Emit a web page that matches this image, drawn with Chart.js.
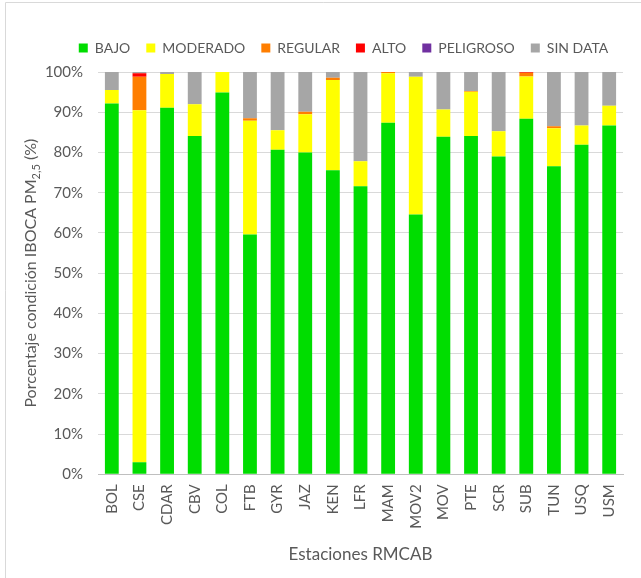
<!DOCTYPE html>
<html>
<head>
<meta charset="utf-8">
<script src="https://cdn.jsdelivr.net/npm/chart.js@4"></script>
<style>
  html, body { margin: 0; padding: 0; background: #fff; }
  #wrap { width: 641px; height: 578px; position: relative; }
</style>
</head>
<body>
<div id="wrap"><canvas id="ibocaChart"></canvas></div>
<script>
// stations and share of hours in each IBOCA PM2.5 condition (%)
const estaciones = ["BOL", "CSE", "CDAR", "CBV", "COL", "FTB", "GYR", "JAZ", "KEN",
  "LFR", "MAM", "MOV2", "MOV", "PTE", "SCR", "SUB", "TUN", "USQ", "USM"];

const bajo      = [92.2, 3.0, 91.1, 84.1, 94.9, 59.6, 80.7, 80.0, 75.6, 71.6, 87.4, 64.6, 83.9, 84.1, 79.0, 88.4, 76.6, 81.9, 86.7];
const moderado  = [3.3, 87.5, 8.4, 7.9, 5.1, 28.3, 4.8, 9.5, 22.4, 6.2, 12.3, 34.2, 6.8, 11.0, 6.3, 10.5, 9.4, 4.8, 4.9];
const regular   = [0, 8.3, 0, 0, 0, 0.6, 0, 0.6, 0.6, 0, 0.3, 0, 0, 0.2, 0, 0.9, 0.5, 0, 0];
const alto      = [0, 0.9, 0, 0, 0, 0, 0, 0, 0, 0, 0, 0, 0, 0, 0, 0.2, 0, 0, 0];
const peligroso = [0, 0, 0, 0, 0, 0, 0, 0, 0, 0, 0, 0, 0, 0, 0, 0, 0, 0, 0];
const sinData   = [4.5, 0.3, 0.5, 8.0, 0, 11.5, 14.5, 9.9, 1.4, 22.2, 0, 1.2, 9.3, 4.7, 14.7, 0, 13.5, 13.3, 8.4];

const yTicks = [0, 10, 20, 30, 40, 50, 60, 70, 80, 90, 100];

const gris = "#595959";
const fuente = "Lato, 'Open Sans', sans-serif";

// frame round the chart plus the y title with its PM2,5 subscript
const extras = {
  id: "extras",
  afterLayout(chart) {
    const l = chart.legend;
    l.left += 32; l.right += 32;
    l.top -= 7; l.bottom -= 7;
  },
  beforeDraw(chart) {
    const c = chart.ctx;
    c.save();
    c.strokeStyle = "#d9d9d9";
    c.lineWidth = 1;
    c.beginPath();
    c.moveTo(5.5, 578); c.lineTo(5.5, 2.5); c.lineTo(641, 2.5);
    c.stroke();
    c.restore();
  },
  afterDraw(chart) {
    const c = chart.ctx;
    const a = chart.chartArea;
    const parts = [
      ["Porcentaje condición IBOCA PM", 16, 0],
      ["2,5", 11, 4],
      [" (%)", 16, 0]
    ];
    c.save();
    c.fillStyle = gris;
    c.textBaseline = "alphabetic";
    let total = 0;
    parts.forEach(p => { c.font = p[1] + "px " + fuente; total += c.measureText(p[0]).width; });
    c.translate(36, (a.top + a.bottom) / 2 + total / 2);
    c.rotate(-Math.PI / 2);
    let x = 0;
    parts.forEach(p => {
      c.font = p[1] + "px " + fuente;
      c.fillText(p[0], x, p[2]);
      x += c.measureText(p[0]).width;
    });
    c.restore();
  }
};

const serie = (label, data, color) => ({
  label, data, backgroundColor: color, borderWidth: 0,
  barPercentage: 1, categoryPercentage: 0.5
});

new Chart(document.getElementById("ibocaChart"), {
  type: "bar",
  data: {
    labels: estaciones,
    datasets: [
      serie("BAJO", bajo, "#00dd00"),
      serie("MODERADO", moderado, "#ffff00"),
      serie("REGULAR", regular, "#ff7e00"),
      serie("ALTO", alto, "#ff0000"),
      serie("PELIGROSO", peligroso, "#7030a0"),
      serie("SIN DATA", sinData, "#a6a6a6")
    ]
  },
  options: {
    responsive: true,
    maintainAspectRatio: false,
    animation: false,
    layout: { padding: { top: 32, right: 18, bottom: 8, left: 0 } },
    plugins: {
      tooltip: { enabled: false },
      legend: {
        position: "top",
        labels: {
          boxWidth: 9, boxHeight: 9, padding: 16,
          color: gris,
          font: { family: fuente, size: 14 }
        }
      }
    },
    scales: {
      x: {
        stacked: true,
        afterFit(s) { s.height = 95.7; },
        grid: { display: false, drawTicks: false },
        border: { color: "#bfbfbf" },
        ticks: {
          color: gris, padding: 10, autoSkip: false,
          maxRotation: 90, minRotation: 90,
          font: { family: fuente, size: 15 }
        },
        title: {
          display: true, text: "Estaciones RMCAB", color: gris,
          font: { family: fuente, size: 17 },
          padding: { top: 0, bottom: 5 }
        }
      },
      y: {
        stacked: true,
        min: 0, max: 100,
        afterFit(s) { s.width = 98; },
        afterBuildTicks(s) { s.ticks = yTicks.map(v => ({ value: v })); },
        grid: { color: "#d9d9d9", drawTicks: false },
        border: { display: false },
        ticks: {
          color: gris, padding: 15,
          font: { family: fuente, size: 15 },
          callback: v => v + "%"
        }
      }
    }
  },
  plugins: [extras]
});
</script>
</body>
</html>
